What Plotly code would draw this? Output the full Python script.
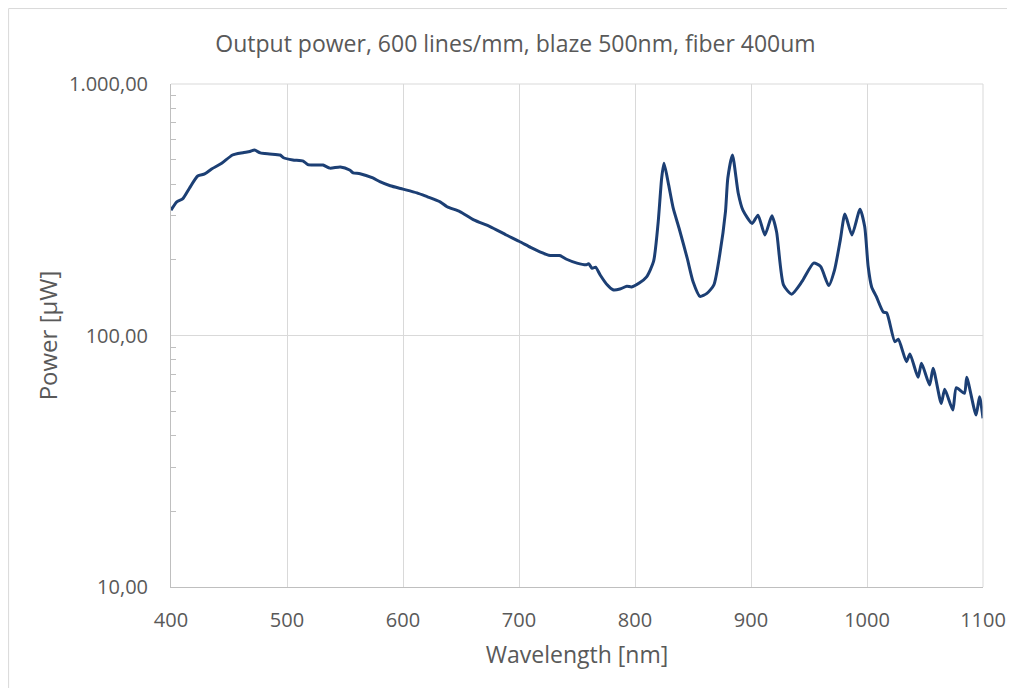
import plotly.graph_objects as go

wavelength_nm = [400, 405, 410, 416, 423, 429, 435, 444, 453, 462, 468, 472, 477, 485, 494, 497,
                 505, 514, 518, 531, 537, 546, 554, 557, 563, 574, 580, 589, 600, 612, 621, 632,
                 638, 649, 661, 675, 689, 700, 710, 718, 727, 735, 741, 750, 758, 760, 763, 766,
                 770, 776, 781, 787, 793, 797, 804, 810, 816, 820, 823, 825, 829, 833, 838, 845,
                 850, 856, 862, 868, 873, 878, 880, 884, 889, 893, 901, 906, 912, 918, 922, 928,
                 935, 944, 954, 960, 967, 972, 977, 981, 987, 994, 998, 1001, 1004, 1008, 1014,
                 1017, 1024, 1027, 1034, 1037, 1044, 1047, 1054, 1057, 1064, 1067, 1074, 1077,
                 1084, 1086, 1094, 1097, 1100]

power_uW = [315, 340, 349, 386, 431, 439, 459, 485, 522, 533, 539, 546, 532, 527, 522, 509,
            499, 494, 478, 476, 463, 468, 455, 443, 440, 423, 409, 394, 382, 369, 356, 340,
            325, 311, 288, 271, 251, 237, 224, 215, 208, 208, 201, 194, 191, 193, 185, 187,
            174, 159, 152, 153, 157, 156, 162, 171, 197, 283, 423, 484, 397, 320, 267, 203,
            164, 143, 147, 159, 209, 311, 422, 522, 368, 315, 279, 301, 251, 299, 259, 159,
            146, 164, 194, 188, 158, 182, 240, 304, 251, 318, 271, 188, 156, 143, 124,
            123, 94.5, 96.6, 78.7, 84.4, 68.2, 77.5, 63.6, 74.1, 53.7, 61.1, 50.6, 62.0,
            58.9, 68.2, 48.3, 57.1, 46.9]

x_ticks = [400, 500, 600, 700, 800, 900, 1000, 1100]
y_ticks = [10, 100, 1000]
y_ticktext = ["10,00", "100,00", "1.000,00"]
y_minor = [20, 30, 40, 50, 60, 70, 80, 90, 200, 300, 400, 500, 600, 700, 800, 900]

title_text = "Output power, 600 lines/mm, blaze 500nm, fiber 400um"
x_title = "Wavelength [nm]"
y_title = "Power [µW]"

FONT = "Open Sans"
TXT = "#595959"
GRID = "#d9d9d9"

fig = go.Figure()
fig.add_trace(go.Scatter(
    x=wavelength_nm, y=power_uW, mode="lines",
    line=dict(color="#1c3f74", width=3, shape="spline", smoothing=0.6),
    showlegend=False, hoverinfo="x+y",
))

fig.update_layout(
    width=1015, height=688,
    paper_bgcolor="white", plot_bgcolor="white",
    margin=dict(l=163, r=40, t=76, b=109),
    title=dict(text=title_text, x=0.5, xanchor="center", y=0.948, yanchor="middle",
               font=dict(family=FONT, size=23, color=TXT)),
    font=dict(family=FONT, color=TXT),
    xaxis=dict(
        range=[400, 1100], tickvals=x_ticks, ticktext=[str(v) for v in x_ticks],
        showgrid=True, gridcolor=GRID, gridwidth=1,
        showline=True, linecolor="#bfbfbf", linewidth=1,
        ticks="", ticklabelstandoff=15,
        tickfont=dict(family=FONT, size=20, color=TXT),
        title=dict(text=x_title, font=dict(family=FONT, size=23, color=TXT), standoff=14),
        zeroline=False,
    ),
    yaxis=dict(
        type="log", range=[1, 3], tickvals=y_ticks, ticktext=y_ticktext,
        showgrid=True, gridcolor=GRID, gridwidth=1,
        showline=True, linecolor="#bfbfbf", linewidth=1,
        ticks="", ticklabelstandoff=18,
        tickfont=dict(family=FONT, size=20, color=TXT),
        minor=dict(tickvals=y_minor, ticks="inside", ticklen=5, tickcolor="#bfbfbf",
                   tickwidth=1, showgrid=False),
        title=dict(text=y_title, font=dict(family=FONT, size=24, color=TXT), standoff=4),
        zeroline=False,
    ),
    shapes=[
        dict(type="line", xref="paper", yref="paper", x0=1, x1=1, y0=0, y1=1,
             line=dict(color=GRID, width=1)),
        dict(type="line", xref="paper", yref="paper", x0=0, x1=1, y0=1, y1=1,
             line=dict(color=GRID, width=1)),
        dict(type="line", xref="paper", yref="paper", x0=-0.2, x1=-0.2, y0=-0.25, y1=1.15,
             line=dict(color="#d9d9d9", width=1)),
        dict(type="line", xref="paper", yref="paper", x0=-0.2, x1=1.06, y0=1.15, y1=1.15,
             line=dict(color="#d9d9d9", width=1)),
    ],
)

fig.write_html("out.html")
